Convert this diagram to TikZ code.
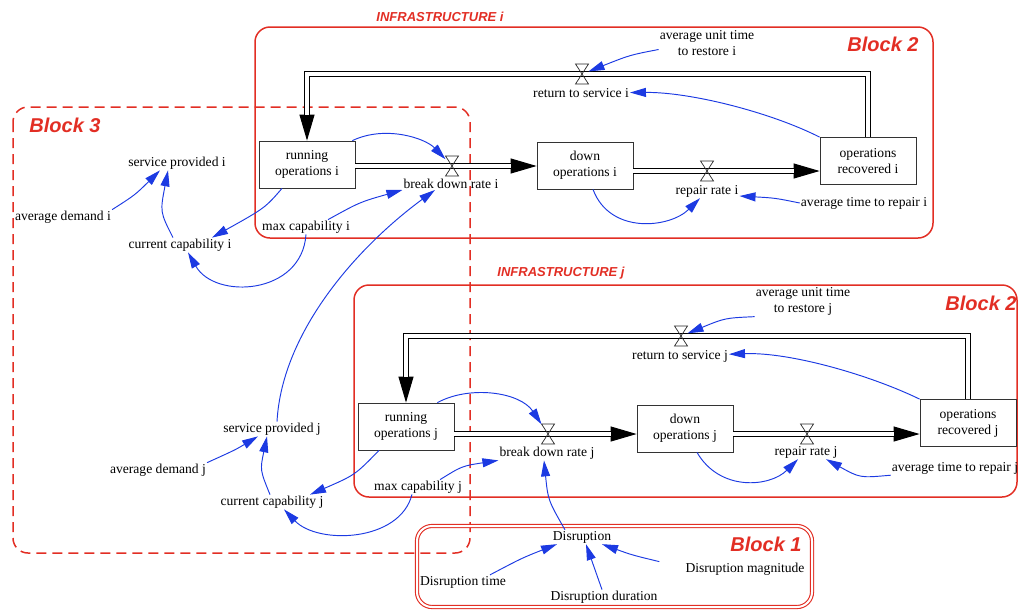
\documentclass[tikz,border=0pt]{standalone}
\usepackage{fontspec}
\setmainfont{Liberation Serif}
\newfontfamily\blockfont{Liberation Sans}
\usetikzlibrary{arrows.meta}
\definecolor{framered}{RGB}{226,46,36}
\definecolor{linkblue}{RGB}{28,58,226}
\tikzstyle{stock}=[draw=black!80,line width=0.8pt,minimum width=96pt,minimum height=47pt,inner sep=1pt,align=center,font=\fontsize{13.6}{16}\selectfont]
\tikzstyle{var}=[inner sep=1pt,align=center,font=\fontsize{13.6}{16}\selectfont]
\tikzstyle{valve}=[minimum width=13pt,minimum height=20pt,inner sep=0pt,outer sep=0pt]
\tikzstyle{valveline}=[draw=black!85,line width=0.7pt,line join=miter]
\tikzstyle{pipe}=[draw=black,double=white,double distance=4pt,line width=1pt,shorten >=25.5pt]
\tikzstyle{flowhead}=[draw=black,line width=1pt,-{Triangle[length=26pt,width=15pt]}]
\tikzstyle{link}=[draw=linkblue,line width=0.95pt,-{Triangle[length=16pt,width=9pt]}]
\tikzstyle{frame}=[draw=framered,line width=1.5pt,rounded corners=15pt]
\tikzstyle{blocklabel}=[text=framered,font=\blockfont\bfseries\itshape\fontsize{20}{24}\selectfont]
\tikzstyle{infralabel}=[text=framered,font=\blockfont\bfseries\itshape\fontsize{13}{15}\selectfont]

\begin{document}
\begin{tikzpicture}[x=1pt,y=-1pt]
\useasboundingbox (0,0) rectangle (1019,611);
% blocks
\draw[frame] (255,27) rectangle (933,238);
\draw[frame] (354,285) rectangle (1017,497);
\draw[frame,dash pattern=on 10pt off 6pt] (13,107) rectangle (470,553);
\draw[frame,double=white,double distance=2pt,line width=1.1pt] (417,526) rectangle (812,607);
\node[infralabel] (inf_i) at (440,17) {INFRASTRUCTURE i};
\node[infralabel] (inf_j) at (561,273) {INFRASTRUCTURE j};
\node[blocklabel] (b2_i) at (883,44) {Block 2};
\node[blocklabel] (b2_j) at (981,303) {Block 2};
\node[blocklabel] (b3) at (65,125) {Block 3};
\node[blocklabel] (b1) at (766,544) {Block 1};

% infrastructure i
\node[stock] (run_i) at (307,164.5) {running\\operations i};
\node[stock] (down_i) at (585,165.5) {down\\operations i};
\node[stock] (rec_i) at (868,161) {operations\\recovered i};
\node[valve] (bd_i) at (452,166) {};
\node[valve] (rep_i) at (707,171) {};
\node[valve] (ret_i) at (582,74) {};
\node[var] (bdl_i) at (451,184) {break down rate i};
\node[var] (repl_i) at (707,191) {repair rate i};
\node[var] (retl_i) at (581,93) {return to service i};
\node[var] (aurt_i) at (707,43.5) {average unit time\\to restore i};
\node[var] (atr_i) at (864,203) {average time to repair i};
\node[var] (sp_i) at (177,163) {service provided i};
\node[var] (ad_i) at (63,217) {average demand i};
\node[var] (cc_i) at (180,245) {current capability i};
\node[var] (mc_i) at (306,227) {max capability i};

% infrastructure j
\node[stock] (run_j) at (406,426.5) {running\\operations j};
\node[stock] (down_j) at (685,428.5) {down\\operations j};
\node[stock] (rec_j) at (968,423) {operations\\recovered j};
\node[valve] (bd_j) at (548,434) {};
\node[valve] (rep_j) at (807,434) {};
\node[valve] (ret_j) at (681,336) {};
\node[var] (bdl_j) at (547,453) {break down rate j};
\node[var] (repl_j) at (806,452) {repair rate j};
\node[var] (retl_j) at (680,356) {return to service j};
\node[var] (aurt_j) at (803,301.5) {average unit time\\to restore j};
\node[var] (atr_j) at (955,468) {average time to repair j};
\node[var] (sp_j) at (272,429) {service provided j};
\node[var] (ad_j) at (158,470) {average demand j};
\node[var] (cc_j) at (272,502) {current capability j};
\node[var] (mc_j) at (418,487) {max capability j};

% disruption
\node[var] (dis) at (582,537) {Disruption};
\node[var] (dt) at (463,582) {Disruption time};
\node[var] (dd) at (604,597) {Disruption duration};
\node[var] (dm) at (745,569) {Disruption magnitude};

% flows
\draw[flowhead] (run_i.east |- bd_i) -- (down_i.west |- bd_i);
\draw[pipe] (run_i.east |- bd_i) -- (down_i.west |- bd_i);
\draw[flowhead] (down_i.east |- rep_i) -- (rec_i.west |- rep_i);
\draw[pipe] (down_i.east |- rep_i) -- (rec_i.west |- rep_i);
\draw[flowhead] (rec_i.north) |- (ret_i.center) -| (run_i.north);
\draw[pipe] (rec_i.north) |- (ret_i.center) -| (run_i.north);
\draw[flowhead] (run_j.east |- bd_j) -- (down_j.west |- bd_j);
\draw[pipe] (run_j.east |- bd_j) -- (down_j.west |- bd_j);
\draw[flowhead] (down_j.east |- rep_j) -- (rec_j.west |- rep_j);
\draw[pipe] (down_j.east |- rep_j) -- (rec_j.west |- rep_j);
\draw[flowhead] (rec_j.north) |- (ret_j.center) -| (run_j.north);
\draw[pipe] (rec_j.north) |- (ret_j.center) -| (run_j.north);
\draw[valveline] (bd_i.north west) -- (bd_i.north east) -- (bd_i.south west) -- (bd_i.south east) -- cycle;
\draw[valveline] (rep_i.north west) -- (rep_i.north east) -- (rep_i.south west) -- (rep_i.south east) -- cycle;
\draw[valveline] (ret_i.north west) -- (ret_i.north east) -- (ret_i.south west) -- (ret_i.south east) -- cycle;
\draw[valveline] (bd_j.north west) -- (bd_j.north east) -- (bd_j.south west) -- (bd_j.south east) -- cycle;
\draw[valveline] (rep_j.north west) -- (rep_j.north east) -- (rep_j.south west) -- (rep_j.south east) -- cycle;
\draw[valveline] (ret_j.north west) -- (ret_j.north east) -- (ret_j.south west) -- (ret_j.south east) -- cycle;

% links i
\draw[link] ([yshift=-6pt]aurt_i.west) .. controls (630,55) .. (ret_i);
\draw[link] (rec_i.north west) .. controls (770,112) and (690,92) .. (retl_i);
\draw[link] ([xshift=-3pt]run_i.north east) .. controls (385,125) and (425,138) .. (bd_i);
\draw[link] ([xshift=8pt]down_i.south) .. controls (610,235) and (670,228) .. ([xshift=-7pt]repl_i.south);
\draw[link] (atr_i.west) .. controls (775,198) .. ([yshift=-5pt]repl_i.east);
\draw[link] ([xshift=-25pt]run_i.south) .. controls (265,208) .. ([xshift=32pt]cc_i.north);
\draw[link] ([xshift=22pt]mc_i.north) .. controls (360,202) .. (bdl_i.south west);
\draw[link] (mc_i.south) .. controls (302,295) and (215,300) .. ([xshift=8pt]cc_i.south);
\draw[link] ([xshift=-7pt]cc_i.north) .. controls (160,212) .. ([xshift=-9pt]sp_i.south);
\draw[link] (ad_i.north east) .. controls (135,195) .. ([xshift=-17pt]sp_i.south);
\draw[link] ([xshift=5pt]sp_j.north) .. controls (282,330) and (360,245) .. ([xshift=-16pt]bdl_i.south);

% links j
\draw[link] (aurt_j.south west) .. controls (725,318) .. (ret_j);
\draw[link] (rec_j.north west) .. controls (870,375) and (790,352) .. (retl_j);
\draw[link] ([xshift=-17pt]run_j.north east) .. controls (470,385) and (520,392) .. (bd_j);
\draw[link] ([xshift=12pt]down_j.south) .. controls (720,492) and (770,487) .. ([xshift=-8pt]repl_j.south);
\draw[link] (atr_j.south west) .. controls (860,478) .. ([xshift=20pt]repl_j.south);
\draw[link] ([xshift=-27pt]run_j.south) .. controls (355,475) .. ([xshift=38pt]cc_j.north);
\draw[link] ([xshift=22pt]mc_j.north) .. controls (462,466) .. (bdl_j.south west);
\draw[link] ([xshift=-6pt]mc_j.south) .. controls (400,542) and (318,545) .. ([xshift=12pt]cc_j.south);
\draw[link] ([xshift=-2pt]cc_j.north) .. controls (260,470) .. ([xshift=-5pt]sp_j.south);
\draw[link] (ad_j.north east) .. controls (235,450) .. ([xshift=-14pt]sp_j.south);
\draw[link] ([xshift=-17pt]dis.north) .. controls (548,500) .. ([xshift=-3pt]bdl_j.south);

% links disruption
\draw[link] ([xshift=27pt]dt.north) .. controls (522,558) .. ([xshift=-25pt]dis.south);
\draw[link] ([xshift=-2pt]dd.north) -- ([xshift=4pt]dis.south);
\draw[link] ([xshift=-25pt]dm.north west) .. controls (632,555) .. ([xshift=20pt]dis.south);
\end{tikzpicture}
\end{document}
